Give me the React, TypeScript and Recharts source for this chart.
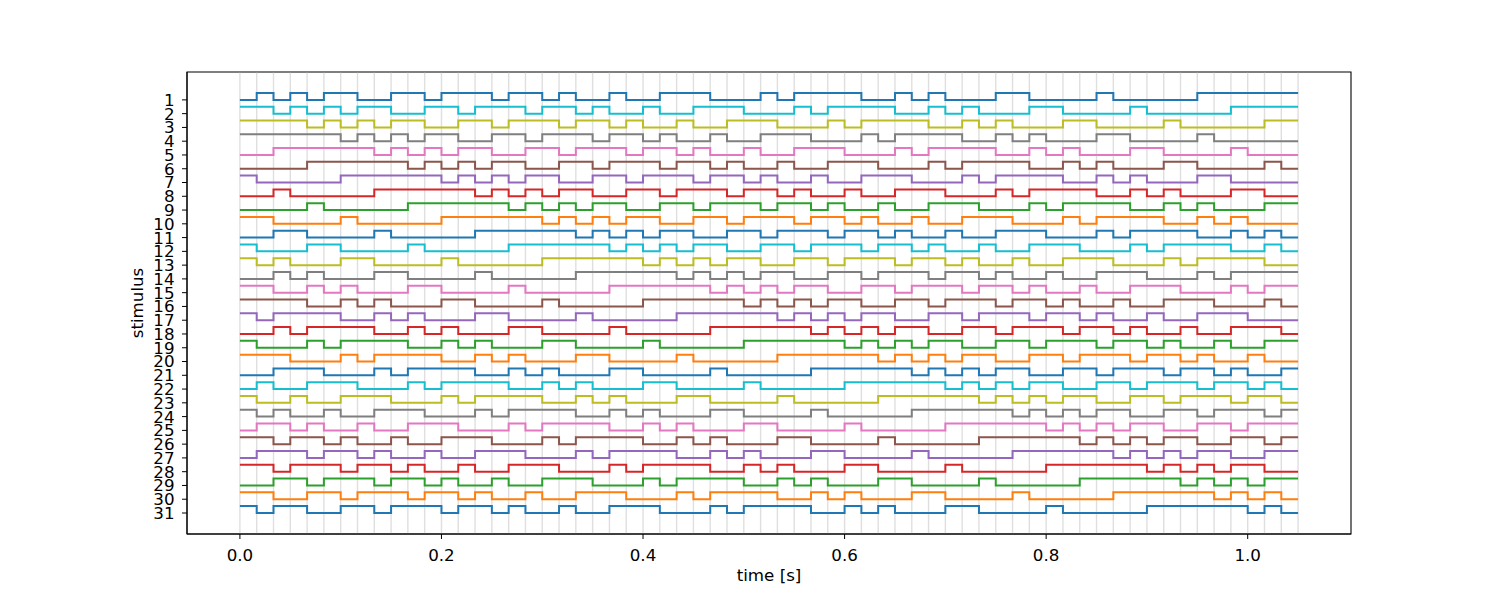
import * as React from 'react';
import { Line, LineChart, ReferenceArea, ReferenceLine, XAxis, YAxis } from 'recharts';

// 60 Hz frames, one code bit per frame
const FRAME_RATE = 60;

// stimulus numbers shown on the y axis
const STIMULI = [
    1, 2, 3, 4, 5, 6, 7, 8, 9, 10, 11, 12, 13, 14, 15, 16,
    17, 18, 19, 20, 21, 22, 23, 24, 25, 26, 27, 28, 29, 30, 31,
];

// on/off code of each stimulus, read frame by frame off the plot
const CODES = [
    '010101100110111011010010011100010111100101000110000100000111111',
    '110101011001101110110100100111000101111001010001100001000001111',
    '111101010110011011101101001001110001011110010100011000010000011',
    '111111010101100110111011010010011100010111100101000110000100000',
    '001111110101011001101110110100100111000101111001010001100001000',
    '000011111101010110011011101101001001110001011110010100011000010',
    '100000111111010101100110111011010010011100010111100101000110000',
    '001000001111110101011001101110110100100111000101111001010001100',
    '000010000011111101010110011011101101001001110001011110010100011',
    '110000100000111111010101100110111011010010011100010111100101000',
    '001100001000001111110101011001101110110100100111000101111001010',
    '100011000010000011111101010110011011101101001001110001011110010',
    '101000110000100000111111010101100110111011010010011100010111100',
    '001010001100001000001111110101011001101110110100100111000101111',
    '110010100011000010000011111101010110011011101101001001110001011',
    '111100101000110000100000111111010101100110111011010010011100010',
    '101111001010001100001000001111110101011001101110110100100111000',
    '001011110010100011000010000011111101010110011011101101001001110',
    '100010111100101000110000100000111111010101100110111011010010011',
    '111000101111001010001100001000001111110101011001101110110100100',
    '001110001011110010100011000010000011111101010110011011101101001',
    '010011100010111100101000110000100000111111010101100110111011010',
    '100100111000101111001010001100001000001111110101011001101110110',
    '101001001110001011110010100011000010000011111101010110011011101',
    '011010010011100010111100101000110000100000111111010101100110111',
    '110110100100111000101111001010001100001000001111110101011001101',
    '011101101001001110001011110010100011000010000011111101010110011',
    '110111011010010011100010111100101000110000100000111111010101100',
    '001101110110100100111000101111001010001100001000001111110101011',
    '110011011101101001001110001011110010100011000010000011111101010',
    '101100110111011010010011100010111100101000110000100000111111010',
];

const TIME_TICKS = [0, 0.2, 0.4, 0.6, 0.8, 1.0];

const TAB10 = ['#1f77b4', '#ff7f0e', '#2ca02c', '#d62728', '#9467bd',
    '#8c564b', '#e377c2', '#7f7f7f', '#bcbd22', '#17becf'];

const nFrames = CODES[0].length;

// one point per frame edge, last point repeats the final bit so the step closes flat
const data = Array.from({ length: nFrames + 1 }, (_, k) => {
    const row: any = { t: k / FRAME_RATE };
    CODES.forEach((code, i) => {
        const bit = Number(code[Math.min(k, nFrames - 1)]);
        row['s' + STIMULI[i]] = STIMULI[i] - 0.5 * bit;
    });
    return row;
});

const frameEdges = Array.from({ length: nFrames + 1 }, (_, k) => k / FRAME_RATE);

const tEnd = nFrames / FRAME_RATE;
const xDomain = [-0.05 * tEnd, tEnd * 1.05];
const yLo = STIMULI[0] - 0.5;
const yHi = STIMULI[STIMULI.length - 1];
const ySpan = yHi - yLo;
const yDomain = [yLo - 0.05 * ySpan, yHi + 0.05 * ySpan];

const FS = 16.7;
const tickStyle = { fill: '#000', fontSize: FS };

export default function App() {
    // matplotlib draws the last stimulus first, so colours cycle from the bottom
    const order = STIMULI.map((s, i) => i).reverse();
    return (
        <div style={{ position: 'absolute', left: 0, top: 0, fontFamily: 'DejaVu Sans', fontSize: FS, background: '#fff' }}>
            <LineChart width={1500} height={600} data={data}
                margin={{ top: 72, right: 149, bottom: 36, left: 127 }}>
                <XAxis dataKey="t" type="number" domain={xDomain} allowDataOverflow ticks={TIME_TICKS}
                    interval={0} tickFormatter={(v: number) => v.toFixed(1)} height={30}
                    stroke="#000" tick={tickStyle} tickSize={5} tickMargin={10}
                    label={{ value: 'time [s]', position: 'bottom', offset: 5.5, fill: '#000', fontSize: FS }} />
                <YAxis type="number" domain={yDomain} allowDataOverflow reversed ticks={STIMULI}
                    interval={0} width={60} stroke="#000" tick={tickStyle} tickSize={5} tickMargin={7.5}
                    label={{ value: 'stimulus', angle: -90, position: 'left', offset: -10.5, fill: '#000',
                        fontSize: FS, style: { textAnchor: 'middle' } }} />
                {frameEdges.map((t) => (
                    <ReferenceLine key={'g' + t} x={t} stroke="#b0b0b0" strokeOpacity={0.4} strokeWidth={1.4} />
                ))}
                {order.map((i) => (
                    <Line key={i} dataKey={'s' + STIMULI[i]} type="stepAfter" dot={false} activeDot={false}
                        stroke={TAB10[(STIMULI.length - 1 - i) % 10]} strokeWidth={2}
                        isAnimationActive={false} />
                ))}
                <ReferenceArea x1={xDomain[0]} x2={xDomain[1]} y1={yDomain[0]} y2={yDomain[1]}
                    fill="none" fillOpacity={0} stroke="#000" strokeWidth={1.1} ifOverflow="visible" />
            </LineChart>
        </div>
    );
}
